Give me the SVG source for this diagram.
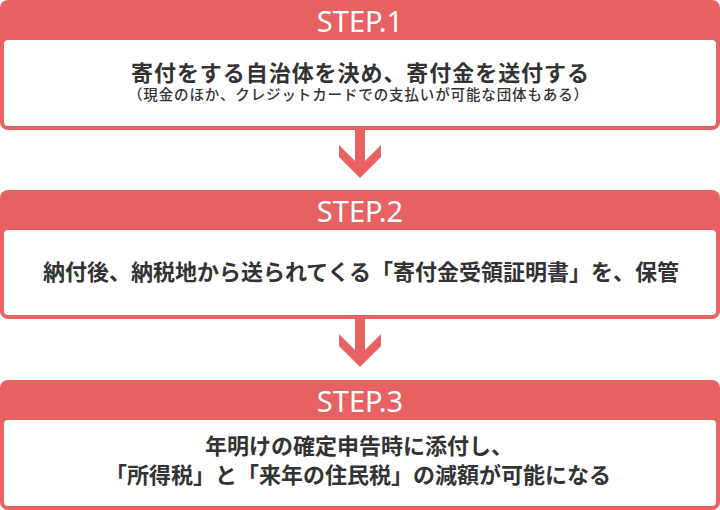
<svg xmlns="http://www.w3.org/2000/svg" width="720" height="510" viewBox="0 0 720 510">
<style>
.frame{fill:#e86263}
.inner{fill:#ffffff}
.head{fill:#ffffff;font-family:"Noto Sans","Liberation Sans",sans-serif;font-size:29px;text-anchor:middle}
.main{fill:#333333;font-family:"Noto Sans CJK JP","Noto Sans",sans-serif;font-size:22px;font-weight:700;text-anchor:middle}
.sub{fill:#333333;font-family:"Noto Sans CJK JP","Noto Sans",sans-serif;font-size:14.5px;font-weight:500;text-anchor:middle}
.arrow{fill:#e86263}
</style>
<defs>
<polygon id="arr" points="355,0 365,0 365,32 381,16 381,28 360,49 339,28 339,16 355,32"/>
</defs>
<g id="step1">
<rect class="frame" x="0" y="0" width="720" height="130" rx="8"/>
<rect class="inner" x="4" y="40" width="712" height="86" rx="4"/>
<text class="head" x="360" y="32">STEP.1</text>
<text class="main" x="360" y="81" textLength="458" lengthAdjust="spacing">寄付をする自治体を決め、寄付金を送付する</text>
<text class="sub" x="358" y="100" textLength="460" lengthAdjust="spacing">（現金のほか、クレジットカードでの支払いが可能な団体もある）</text>
</g>
<g id="step2">
<rect class="frame" x="0" y="190" width="720" height="129" rx="8"/>
<rect class="inner" x="4" y="230" width="712" height="85" rx="4"/>
<text class="head" x="360" y="222">STEP.2</text>
<text class="main" x="361" y="280">納付後、納税地から送られてくる「寄付金受領証明書」を、保管</text>
</g>
<g id="step3">
<rect class="frame" x="0" y="380" width="720" height="130" rx="8"/>
<rect class="inner" x="4" y="420" width="712" height="86" rx="4"/>
<text class="head" x="360" y="412">STEP.3</text>
<text class="main" x="359" y="454">年明けの確定申告時に添付し、</text>
<text class="main" x="358" y="483">「所得税」と「来年の住民税」の減額が可能になる</text>
</g>
<g id="connectors">
<use class="arrow" href="#arr" x="0" y="129"/>
<use class="arrow" href="#arr" x="0" y="318"/>
</g>
</svg>
